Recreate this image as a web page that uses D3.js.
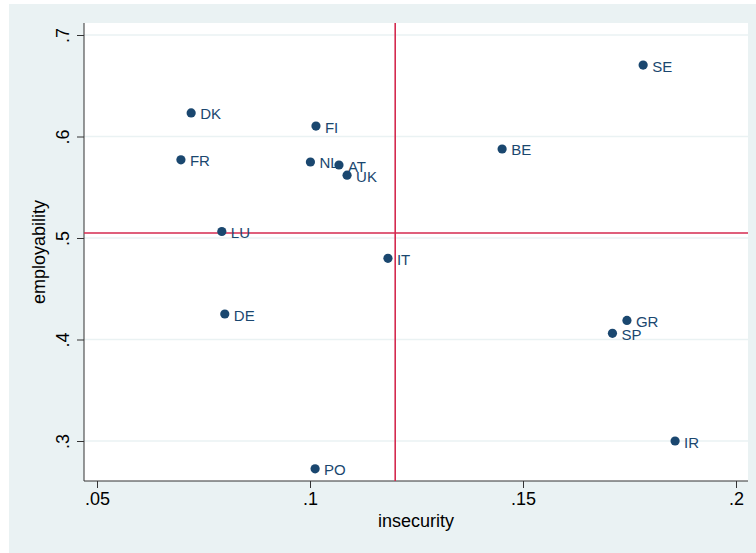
<!DOCTYPE html>
<html>
<head>
<meta charset="utf-8">
<script src="https://cdn.jsdelivr.net/npm/d3@7"></script>
<style>
  body { margin: 0; background: #fff; }
  text { font-family: "Liberation Sans", Arial, sans-serif; }
</style>
</head>
<body>
<svg id="chart" width="756" height="553"></svg>
<script>
// country codes and their (insecurity, employability) values
const countries = ["DK", "FR", "FI", "NL", "AT", "UK", "BE", "SE", "LU", "IT", "DE", "GR", "SP", "IR", "PO"];
const insecurity = [0.0721, 0.0697, 0.1014, 0.1001, 0.1068, 0.1087, 0.1451, 0.1782, 0.0793, 0.1183, 0.0800, 0.1744, 0.1710, 0.1857, 0.1012];
const employability = [0.6232, 0.5770, 0.6103, 0.5749, 0.5719, 0.5619, 0.5877, 0.6704, 0.5064, 0.4800, 0.4251, 0.4188, 0.4061, 0.3000, 0.2726];

const xTicks = [0.05, 0.1, 0.15, 0.2];
const yTicks = [0.3, 0.4, 0.5, 0.6, 0.7];
const refX = 0.12;   // mean insecurity
const refY = 0.505;  // mean employability

const navy = "#1a476f";
const red = "#d42a4f";

var svg = d3.select("#chart");

// outer grey panel
svg.append("rect").attr("x", 9).attr("y", 4).attr("width", 747).attr("height", 549).attr("fill", "#eaf2f3");

const plot = {left: 84, right: 748, top: 23, bottom: 481};

var x = d3.scaleLinear().domain([0.05, 0.2]).range([97, 736]);
var y = d3.scaleLinear().domain([0.3, 0.7]).range([441, 35]);

svg.append("rect")
    .attr("x", plot.left).attr("y", plot.top)
    .attr("width", plot.right - plot.left).attr("height", plot.bottom - plot.top)
    .attr("fill", "#fff");

// horizontal grid
svg.append("g").selectAll("line")
    .data(yTicks)
    .enter().append("line")
    .attr("x1", plot.left).attr("x2", plot.right)
    .attr("y1", d => y(d)).attr("y2", d => y(d))
    .attr("stroke", "#eaf2f3").attr("stroke-width", 1.5);

// axes
var fmt = d => d3.format(".2~f")(d).replace(/^0/, "");

var xAxis = svg.append("g")
    .attr("transform", "translate(0," + plot.bottom + ")")
    .call(d3.axisBottom(x).tickValues(xTicks).tickSize(7).tickPadding(4).tickFormat(fmt));
xAxis.select(".domain").attr("d", "M" + plot.left + ",0H" + plot.right).attr("stroke", "#333");
xAxis.selectAll(".tick line").attr("stroke", "#333");
xAxis.selectAll(".tick text").attr("font-size", 18).attr("fill", "#000")
    .style("font-family", "'Liberation Sans', Arial, sans-serif");

var yAxis = svg.append("g")
    .attr("transform", "translate(" + plot.left + ",0)")
    .call(d3.axisLeft(y).tickValues(yTicks).tickSize(7).tickPadding(0).tickFormat(fmt));
yAxis.select(".domain").attr("d", "M0," + plot.top + "V" + plot.bottom).attr("stroke", "#333");
yAxis.selectAll(".tick line").attr("stroke", "#333");
yAxis.selectAll(".tick text")
    .attr("font-size", 18).attr("fill", "#000")
    .attr("x", 0).attr("dy", 0)
    .attr("text-anchor", "middle")
    .attr("transform", "translate(-15,0) rotate(-90)")
    .style("font-family", "'Liberation Sans', Arial, sans-serif");

// axis titles
svg.append("text")
    .attr("x", (plot.left + plot.right) / 2).attr("y", 527)
    .attr("text-anchor", "middle").attr("font-size", 18)
    .text("insecurity");
svg.append("text")
    .attr("transform", "translate(45," + (plot.top + plot.bottom) / 2 + ") rotate(-90)")
    .attr("text-anchor", "middle").attr("font-size", 18)
    .text("employability");

// reference lines
svg.append("line")
    .attr("x1", x(refX)).attr("x2", x(refX))
    .attr("y1", plot.top).attr("y2", plot.bottom)
    .attr("stroke", red).attr("stroke-width", 1.6);
svg.append("line")
    .attr("x1", plot.left).attr("x2", plot.right)
    .attr("y1", y(refY)).attr("y2", y(refY))
    .attr("stroke", red).attr("stroke-width", 1.6);

// points
var pts = countries.map((c, i) => ({name: c, x: insecurity[i], y: employability[i]}));

var g = svg.append("g");
g.selectAll("circle")
    .data(pts)
    .enter().append("circle")
    .attr("cx", d => x(d.x)).attr("cy", d => y(d.y))
    .attr("r", 4.6)
    .attr("fill", navy);

g.selectAll("text")
    .data(pts)
    .enter().append("text")
    .attr("x", d => x(d.x) + 9).attr("y", d => y(d.y) + 6.5)
    .attr("font-size", 15)
    .attr("fill", navy)
    .text(d => d.name);
</script>
</body>
</html>
